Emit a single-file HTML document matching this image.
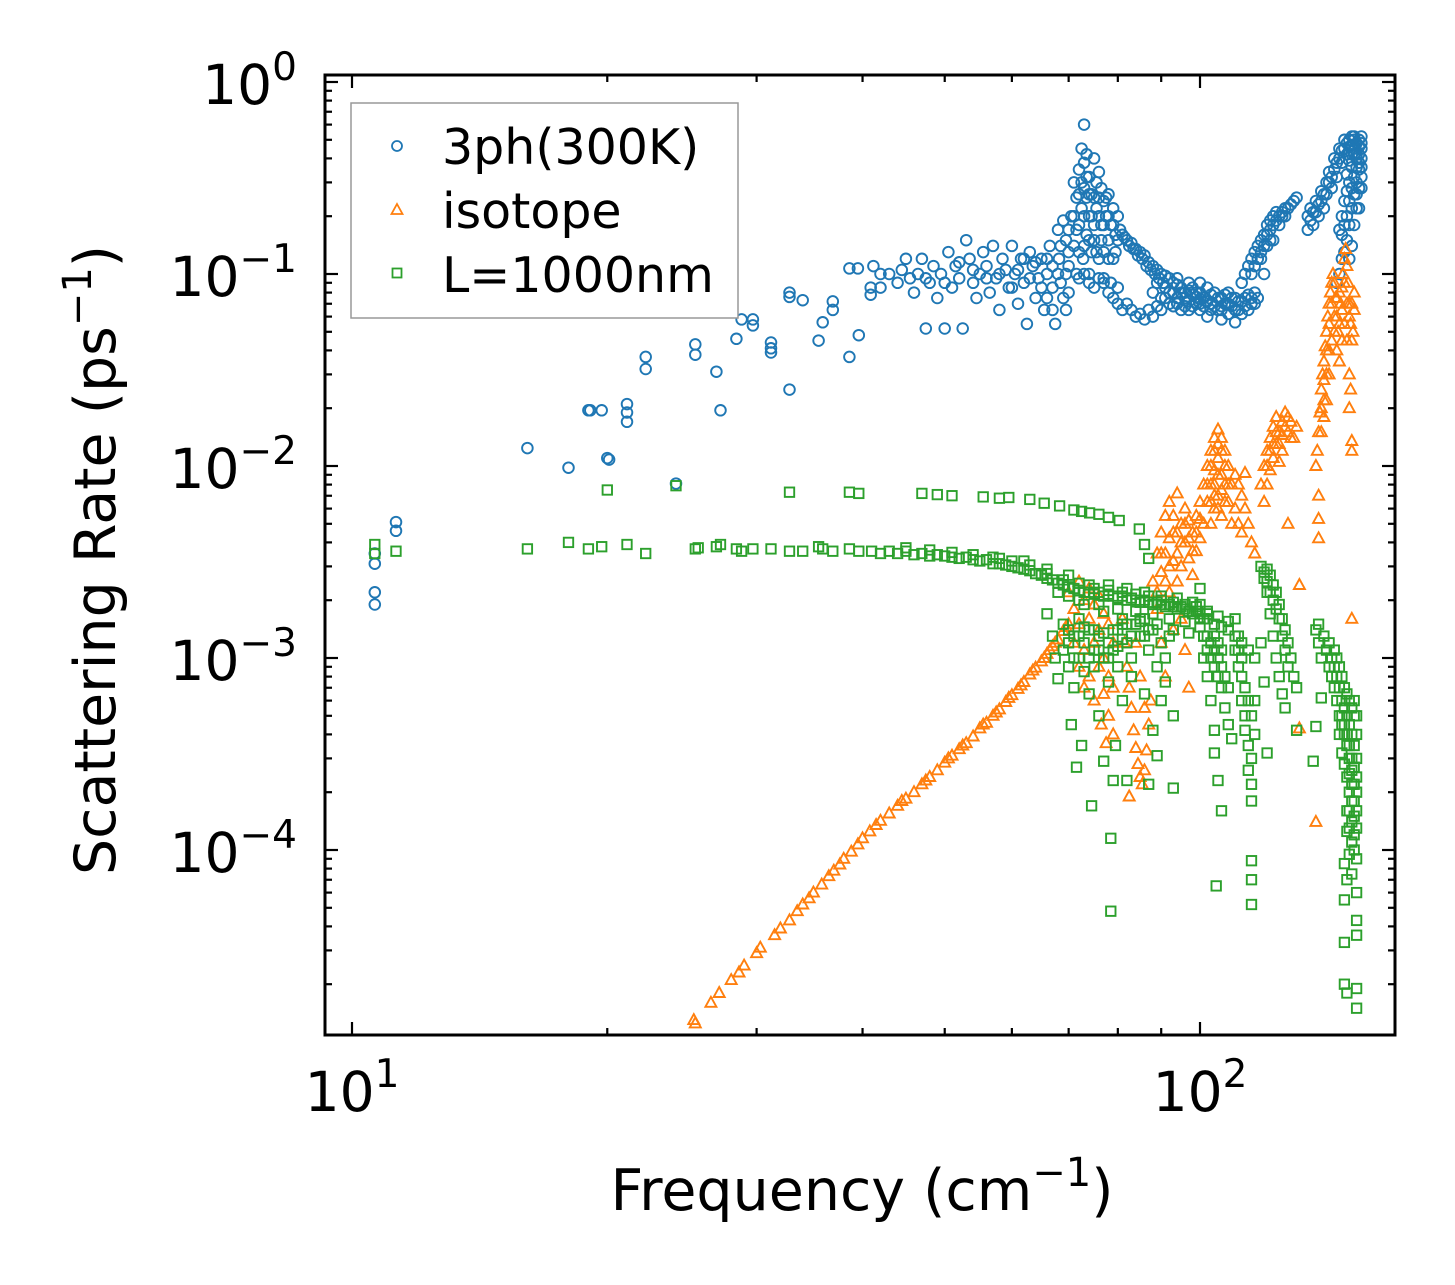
<!DOCTYPE html>
<html><head><meta charset="utf-8"><style>
html,body{margin:0;padding:0;background:#fff;}
svg{display:block;font-family:"DejaVu Sans","Liberation Sans",sans-serif;}
</style></head><body>
<svg id="chart" width="1455" height="1285" viewBox="0 0 1455 1285" xmlns="http://www.w3.org/2000/svg">
<rect width="1455" height="1285" fill="#fff"/>
<g id="marks"></g>
<g id="axes"></g>
<text x="862" y="1210" font-size="57" text-anchor="middle">Frequency (cm<tspan dy="-24" font-size="40">−1</tspan><tspan dy="24">)</tspan></text>
<text transform="translate(115,560) rotate(-90)" font-size="57" text-anchor="middle">Scattering Rate (ps<tspan dy="-24" font-size="40">−1</tspan><tspan dy="24">)</tspan></text>
<g>
<rect x="351" y="103" width="387" height="215" fill="#fff" stroke="#999" stroke-width="1.5"/>
<circle cx="397" cy="146" r="5" fill="none" stroke="#1f77b4" stroke-width="1.8"/>
<text x="442" y="164" font-size="49">3ph(300K)</text>
<polygon points="397,204 402.5,214 391.5,214" fill="none" stroke="#ff7f0e" stroke-width="1.8"/>
<text x="442" y="228" font-size="49">isotope</text>
<rect x="392.5" y="268.5" width="9" height="9" fill="none" stroke="#2ca02c" stroke-width="1.8"/>
<text x="442" y="292" font-size="49">L=1000nm</text>
</g>
</svg>
<script>
const xTickValues=[10,100];
const xTickLabels=["10","10"];
const xTickExps=["1","2"];
const yTickValues=[1,0.1,0.01,0.001,0.0001];
const yTickLabels=["10","10","10","10","10"];
const yTickExps=["0","−1","−2","−3","−4"];

const blue=[[10.64,3.5e-3],[10.64,3.1e-3],[10.64,2.2e-3],[10.64,1.9e-3],[11.27,5.1e-3],[11.27,4.6e-3],[16.1,1.24e-2],[18.0,9.8e-3],[19.0,1.95e-2],[19.1,1.95e-2],[19.7,1.95e-2],[20.0,1.1e-2],[20.1,1.08e-2],[21.1,2.1e-2],[21.1,1.9e-2],[21.1,1.7e-2],[22.2,3.7e-2],[22.2,3.2e-2],[24.1,8.1e-3],[25.4,4.3e-2],[25.4,3.8e-2],[26.9,3.1e-2],[27.2,1.95e-2],[28.4,4.6e-2],[28.8,5.8e-2],[29.7,5.8e-2],[29.7,5.4e-2],[31.2,4.4e-2],[31.2,4.1e-2],[31.2,3.9e-2],[32.8,8e-2],[32.8,7.6e-2],[32.8,2.5e-2],[34,7.3e-2],[35.5,4.5e-2],[35.9,5.6e-2],[36.9,7.2e-2],[36.9,6.5e-2],[38.6,3.7e-2],[38.6,1.07e-1],[39.5,1.07e-1],[39.6,4.8e-2],[40.9,7.8e-2],[40.9,8.5e-2],[41.2,1.1e-1],[42,0.1],
[42,0.085],[43,0.1],[44,0.09],[45,0.12],[45.5,0.095],[46,0.08],[46.5,0.1],[47,0.12],[47.5,0.052],[48,0.09],[48.5,0.11],[49,0.075],[49.5,0.1],[50,0.052],[50.5,0.13],[51,0.085],[51.5,0.11],[52,0.095],[52.5,0.052],[53,0.15],[53.5,0.12],[54,0.09],[54.5,0.075],[55,0.1],[55.5,0.13],[56,0.11],[56.5,0.08],[57,0.14],[57.5,0.095],[58,0.065],[58.5,0.12],[59,0.105],[59.5,0.085],[60,0.14],[60.5,0.1],[61,0.07],[61.5,0.12],[62,0.09],[62.5,0.055],[63,0.13],[63.5,0.11],[64,0.075],[64.5,0.095],[65,0.12],[65.5,0.065],[66,0.1],[66.5,0.14],[67,0.085],[67.5,0.055],[68,0.17],[68.2,0.12],[68.5,0.09],[69,0.19],[69,0.075],[69.5,0.15],[70,0.11],[70,0.08],
[44.5,0.105],[47.5,0.095],[50,0.09],[52,0.115],[54,0.105],[56,0.095],[58,0.1],[60,0.085],[61,0.105],[62,0.12],[63,0.095],[64,0.115],[65,0.085],[66,0.075],[66,0.12],[67,0.11],[67,0.065],[68,0.1],[68.5,0.14],[69.5,0.1],[69.5,0.065],[70,0.13],[70,0.17],
[70.5,0.2],[71,0.3],[71,0.14],[71.5,0.25],[71.5,0.1],[72,0.35],[72,0.18],[72.5,0.45],[72.5,0.22],[72.8,0.12],[73,0.6],[73,0.38],[73,0.28],[73.5,0.42],[73.5,0.16],[74,0.32],[74,0.2],[74,0.1],[74.5,0.26],[75,0.4],[75,0.15],[75.5,0.3],[75.5,0.22],[76,0.34],[76,0.12],[76.5,0.28],[76.5,0.18],[77,0.24],[77,0.095],[77.5,0.2],[78,0.26],[78,0.15],[78.5,0.18],[78.5,0.09],[79,0.22],[79,0.12],[79.5,0.16],[80,0.2],[80,0.085],
[71,0.2],[71.5,0.17],[72,0.26],[72,0.13],[72.5,0.3],[73,0.2],[73,0.14],[73.5,0.25],[73.5,0.32],[74,0.26],[74,0.15],[74.5,0.2],[74.5,0.13],[75,0.25],[75,0.18],[75.5,0.13],[76,0.2],[76,0.25],[76.5,0.15],[77,0.18],[77,0.13],[77.5,0.25],[78,0.2],[78,0.12],[79,0.18],[79.5,0.13],[80,0.15],
[72,0.095],[73,0.1],[74,0.09],[75,0.085],[76,0.095],[77,0.09],[78,0.08],[79,0.075],[80,0.07],[81,0.065],[82,0.07],[83,0.065],[84,0.06],[85,0.062],[86,0.058],[87,0.065],[88,0.06],[89,0.068],
[80.5,0.17],[81,0.16],[82,0.15],[83,0.145],[84,0.135],[85,0.13],[86,0.125],[87,0.115],[88,0.11],[89,0.105],[90,0.1],[91,0.098],[92,0.095],[93,0.09],[94,0.088],[95,0.085],[96,0.08],[97,0.082],[98,0.078],[99,0.076],[100,0.074],
[81.5,0.155],[82.5,0.14],[83.5,0.135],[84.5,0.125],[85.5,0.12],[86.5,0.11],[87.5,0.105],[88.5,0.1],[89.5,0.095],[90.5,0.09],
[88,0.08],[89,0.09],[90,0.075],[91,0.085],[92,0.07],[93,0.08],[94,0.095],[95,0.065],[96,0.075],[97,0.09],[98,0.068],[99,0.08],[100,0.09],[100,0.065],[101,0.075],[102,0.085],[102,0.06],[103,0.07],[104,0.08],[105,0.065],[106,0.075],[106,0.058],[107,0.07],[108,0.08],[108,0.062],[109,0.068],[110,0.075],[110,0.056],[111,0.065],[112,0.072],[113,0.068],[114,0.078],[115,0.07],[116,0.08],[117,0.075],
[90,0.065],[91,0.075],[92,0.08],[93,0.068],[94,0.075],[95,0.08],[96,0.068],[97,0.072],[98,0.085],[99,0.07],[100,0.08],[101,0.068],[102,0.072],[103,0.078],[104,0.068],[105,0.075],[106,0.068],[107,0.078],[108,0.07],[109,0.075],[110,0.065],[111,0.072],[112,0.062],[113,0.075],[114,0.065],[115,0.075],[116,0.07],[94,0.07],[97,0.065],[100,0.07],[103,0.065],[106,0.065],
[112,0.09],[113,0.1],[114,0.11],[115,0.12],[116,0.13],[117,0.14],[118,0.15],[119,0.16],[120,0.18],[121,0.19],[122,0.2],[123,0.21],[124,0.2],[125,0.21],[126,0.22],[127,0.22],[128,0.23],[129,0.24],[130,0.25],[118,0.12],[119,0.1],[120,0.14],[121,0.17],[122,0.15],
[115,0.1],[116,0.11],[117,0.12],[118,0.13],[119,0.14],[120,0.16],[121,0.15],[122,0.18],[123,0.19],[124,0.18],[125,0.2],[126,0.2],
[134,0.17],[135,0.19],[136,0.18],[137,0.21],[138,0.2],[139,0.24],[140,0.22],[141,0.26],[142,0.3],[143,0.28],[144,0.35],[145,0.32],[146,0.4],[147,0.38],[148,0.45],[149,0.42],[150,0.5],[151,0.47],[152,0.52],[153,0.48],[154,0.5],[155,0.45],[155,0.4],[154,0.35],[153,0.3],[152,0.26],[151,0.22],[150,0.18],[149,0.15],[148,0.13],[147,0.12],[146,0.1],[145,0.09],[153,0.4],[152,0.42],[151,0.36],[150,0.3],[149,0.27],[148,0.24],[147,0.2],[146,0.17],[155,0.52],[154,0.42],[153,0.36],[150,0.39],[149,0.33],[154,0.28],[155,0.32],[153,0.22],[152,0.18],[151,0.14],[150,0.12],
[134,0.2],[135,0.22],[136,0.21],[137,0.24],[138,0.23],[139,0.27],[140,0.26],[141,0.3],[142,0.34],[143,0.32],[144,0.4],[145,0.38],[146,0.45],[147,0.44],[148,0.5],[149,0.48],[150,0.44],[151,0.42],[152,0.45],[153,0.42],[154,0.46],[155,0.36],[154,0.38],[155,0.28],[152,0.32],[151,0.28],[150,0.24],[149,0.2],[148,0.18],[147,0.16],[153,0.26],[154,0.22],[155,0.48],[152,0.5],[151,0.52],[150,0.46]];

const orange=[[25.3,1.3e-5],[25.4,1.25e-5],[26.5,1.6e-5],[27.1,1.8e-5],[28,2.1e-5],[28.6,2.3e-5],[29,2.5e-5],[30,2.9e-5],[30.3,3.1e-5],[31.5,3.6e-5],[32,3.9e-5],[32.8,4.3e-5],[33.5,4.8e-5],[34,5.2e-5],[34.6,5.6e-5],[35,6e-5],[35.8,6.6e-5],[36.5,7.3e-5],[37,7.8e-5],[37.6,8.4e-5],[38,9e-5],[38.8,9.8e-5],[39.5,1.07e-4],[40,1.15e-4],[40.8,1.25e-4],[41.5,1.35e-4],[42,1.42e-4],[43,1.55e-4],[44,1.7e-4],[45,1.85e-4],[46,2.0e-4],[47,2.2e-4],[48,2.4e-4],[49,2.6e-4],[50,2.85e-4],[51,3.1e-4],[52,3.35e-4],[53,3.6e-4],[54,3.9e-4],[55,4.3e-4],[56,4.6e-4],[57,5e-4],[58,5.4e-4],[59,5.9e-4],[60,6.4e-4],[61,6.9e-4],[62,7.5e-4],[63,8.2e-4],[64,8.9e-4],[65,9.6e-4],[66,1.05e-3],[67,1.15e-3],[68,1.25e-3],[69,1.38e-3],[70,1.5e-3],[50.5,3e-4],[55.5,4.5e-4],[61.5,7.2e-4],[66.5,1.1e-3],
[44.5,1.8e-4],[47.5,2.3e-4],[52.5,3.5e-4],[57.5,5.2e-4],[59.5,6.2e-4],[63.5,8.6e-4],[65.5,1.0e-3],[67.5,1.2e-3],[69.5,1.45e-3],
[70,2.2e-3],[71,1.8e-3],[71,1.2e-3],[72,2.5e-3],[72,1.5e-3],[72,9e-4],[73,2e-3],[73,1.1e-3],[73,7e-4],[74,2.3e-3],[74,1.6e-3],[74,8e-4],[75,1.9e-3],[75,1.2e-3],[75,6e-4],[76,2.1e-3],[76,1.4e-3],[76,9e-4],[76.5,4.5e-4],[77,1.7e-3],[77,1e-3],[77,6.5e-4],[77.5,3.6e-4],[78,1.5e-3],[78,8e-4],[78,5e-4],[79,1.2e-3],[79,7e-4],[79,4e-4],
[81,1.6e-3],[81.5,1.2e-3],[82,9e-4],[82.5,7e-4],[83,5.5e-4],[83.5,4.2e-4],[84,3.4e-4],[84.5,2.8e-4],[85,2.4e-4],[85.5,2.2e-4],[86,2.6e-4],[86.5,3.3e-4],[87,4.5e-4],[87.5,6e-4],[82.5,1.9e-4],[84,1.2e-3],[85,8e-4],[86,5.5e-4],
[88,2.5e-3],[89,3.5e-3],[89,1.8e-3],[90,4.5e-3],[90,2.8e-3],[90,1.2e-3],[91,5.5e-3],[91,3.5e-3],[91,8e-4],[92,6.5e-3],[92,4.2e-3],[92,2.2e-3],[93,5.5e-3],[93,3.2e-3],[93,1.4e-3],[94,7.2e-3],[94,4.5e-3],[94,2.5e-3],[95,5e-3],[95,3e-3],[95,1.6e-3],[96,6e-3],[96,4e-3],[96,1.1e-3],[97,5.2e-3],[97,3.3e-3],[97,7e-4],[98,4.5e-3],[98,2.7e-3],[99,5.5e-3],[99,3.6e-3],[100,6.5e-3],[100,4.2e-3],
[89,2.2e-3],[90,3.5e-3],[91,2.5e-3],[92,3e-3],[93,4.5e-3],[94,3.5e-3],[95,4e-3],[96,5e-3],[97,4.2e-3],[98,3.6e-3],[99,4.5e-3],[100,5.3e-3],
[101,8e-3],[101,5e-3],[102,1e-2],[102,6.5e-3],[103,1.2e-2],[103,8e-3],[103,5e-3],[104,1.4e-2],[104,9.5e-3],[104,6e-3],[105,1.55e-2],[105,1.1e-2],[105,7e-3],[106,1.4e-2],[106,9e-3],[106,5.5e-3],[107,1.2e-2],[107,8e-3],[108,1e-2],[108,6.5e-3],[109,8e-3],[109,5e-3],
[102,8e-3],[103,1e-2],[104,1.2e-2],[104,8e-3],[105,1.3e-2],[105,9e-3],[106,1.2e-2],[106,7.5e-3],[107,1e-2],[107,6.5e-3],[108,8e-3],[103,6.5e-3],[104,7e-3],[105,6e-3],
[110,9e-3],[110,6e-3],[111,8e-3],[111,5e-3],[112,7e-3],[112,4.5e-3],[113,6e-3],[114,5e-3],[115,4e-3],[116,3.5e-3],[113,9.2e-3],
[118,8e-3],[119,1e-2],[120,1.2e-2],[120,8e-3],[121,1.4e-2],[121,9.5e-3],[122,1.6e-2],[122,1.1e-2],[123,1.8e-2],[123,1.3e-2],[124,1.5e-2],[125,1.7e-2],[125,1.2e-2],[126,1.9e-2],[127,1.5e-2],[128,1.7e-2],[129,1.4e-2],[130,1.6e-2],[124,1.05e-2],[119,6.5e-3],
[120,1e-2],[121,1.2e-2],[122,1.3e-2],[123,1.5e-2],[124,1.3e-2],[125,1.45e-2],[126,1.6e-2],[127,1.8e-2],[128,1.4e-2],
[137,1e-2],[137.5,1.2e-2],[138,1.5e-2],[138.5,1.9e-2],[139,2.5e-2],[139.5,3e-2],[140,3.5e-2],[140.5,4.2e-2],[141,5e-2],[141.5,6e-2],[142,7e-2],[142.5,8e-2],[143,9e-2],[143.5,0.1],[144,0.09],[144.5,0.075],[145,0.06],[145.5,0.05],[146,0.055],[146.5,0.07],[147,0.085],[147.5,0.1],[148,0.12],[148.5,0.135],[149,0.11],[149.5,0.09],[150,0.07],[150.5,0.055],[151,0.045],[151.5,0.05],[152,0.065],[140,2.2e-2],[141,3e-2],[142,4e-2],[139,1.5e-2],[150,0.03],[150.5,0.025],[150,0.02],[151,0.012],[151,0.0135],[138,7e-3],[138,5.3e-3],[138,4.2e-3],[151,1.6e-3],[137,1.4e-4],[131,2.4e-3],[131,4.3e-4],[127,5e-3],
[139,2e-2],[140,2.8e-2],[141,4e-2],[142,5.5e-2],[143,7e-2],[144,6e-2],[145,7.5e-2],[146,8e-2],[147,6.5e-2],[148,9e-2],[149,7e-2],[150,6e-2],[151,7e-2],[152,8e-2],[143,4.5e-2],[144,5e-2],[145,4e-2],[146,3.5e-2],[147,4.5e-2],[148,5.5e-2],[149,4.5e-2],[142,3e-2],[141,2.2e-2],[140,1.8e-2]];

const green=[[20,7.5e-3],[24.1,7.9e-3],[32.8,7.3e-3],[38.6,7.3e-3],[39.6,7.2e-3],[47,7.2e-3],[49,7.1e-3],[51,7e-3],[55.5,6.9e-3],[58,6.8e-3],[59.5,6.85e-3],[63,6.7e-3],[65.5,6.4e-3],[68.3,6.2e-3],[71,5.9e-3],[72.5,5.8e-3],[74.1,5.7e-3],[76,5.6e-3],[78,5.4e-3],[80.3,5.2e-3],[84.8,4.7e-3],[86,3.9e-3],[87,3.3e-3],
[10.64,3.9e-3],[10.64,3.5e-3],[11.27,3.6e-3],[16.1,3.7e-3],[18,4.0e-3],[19,3.7e-3],[19.7,3.8e-3],[21.1,3.9e-3],[22.2,3.5e-3],[25.4,3.7e-3],[25.6,3.75e-3],[26.9,3.8e-3],[27.2,3.9e-3],[28.4,3.7e-3],[28.8,3.6e-3],[29.7,3.7e-3],[31.2,3.7e-3],[32.8,3.6e-3],[34,3.6e-3],[35.5,3.8e-3],[35.9,3.7e-3],[36.9,3.6e-3],[38.6,3.7e-3],[39.6,3.6e-3],[41,3.6e-3],[42,3.5e-3],[43,3.6e-3],[44,3.5e-3],[45,3.6e-3],[46,3.45e-3],[47,3.5e-3],[48,3.4e-3],[49,3.45e-3],[50,3.4e-3],[51,3.35e-3],[52,3.3e-3],[53,3.35e-3],[54,3.25e-3],[55,3.2e-3],[56,3.25e-3],[57,3.1e-3],[58,3.1e-3],[59,3.05e-3],[60,3.0e-3],[61,2.95e-3],[62,2.9e-3],[63,2.85e-3],[64,2.75e-3],[65,2.7e-3],[66,2.6e-3],[67,2.55e-3],[68,2.45e-3],[69,2.4e-3],[70,2.35e-3],[71,2.3e-3],[72,2.25e-3],[73,2.2e-3],[74,2.2e-3],[75,2.15e-3],[76,2.2e-3],[77,2.1e-3],[78,2.15e-3],[79,2.1e-3],[80,2.05e-3],[81,2.1e-3],[82,2.0e-3],[83,2.05e-3],[84,2.0e-3],[85,1.95e-3],[86,2.0e-3],[87,1.95e-3],[88,1.9e-3],[89,1.95e-3],[90,1.9e-3],[91,1.85e-3],[92,1.9e-3],[93,1.85e-3],[94,1.8e-3],[95,1.85e-3],[96,1.8e-3],[97,1.75e-3],[98,1.7e-3],[99,1.75e-3],[100,1.7e-3],[102,1.6e-3],[104,1.5e-3],[106,1.45e-3],[108,1.4e-3],[110,1.3e-3],[112,1.2e-3],[114,1.1e-3],[116,1e-3],[58,3.3e-3],[62,3.2e-3],[66,2.9e-3],[70,2.7e-3],[74,2.4e-3],[78,2.4e-3],[82,2.3e-3],[86,2.2e-3],[90,2.1e-3],[94,2.05e-3],[98,1.95e-3],[68,2.2e-3],[72,2.0e-3],[76,1.9e-3],[80,1.8e-3],[84,1.75e-3],[88,1.7e-3],[92,1.6e-3],[96,1.55e-3],[100,1.45e-3],
[45,3.75e-3],[48,3.65e-3],[51,3.55e-3],[54,3.45e-3],[57,3.35e-3],[60,3.2e-3],[63,3.05e-3],[66,2.75e-3],[69,2.55e-3],[72,2.45e-3],[75,2.3e-3],[78,2.25e-3],[81,2.2e-3],[84,2.15e-3],[87,2.1e-3],[90,2.0e-3],[93,1.95e-3],[96,1.9e-3],[99,1.85e-3],[102,1.75e-3],[105,1.65e-3],[108,1.55e-3],[70,2.1e-3],[73,1.9e-3],[77,1.75e-3],[81,1.6e-3],[85,1.55e-3],[89,1.5e-3],[93,1.4e-3],[97,1.35e-3],[101,1.3e-3],[105,1.2e-3],
[66,1.7e-3],[67,1.3e-3],[67.5,1e-3],[68,7.8e-4],[69,1.5e-3],[69,1.1e-3],[70,1.2e-3],[70,9e-4],[70.5,4.5e-4],[71,1.3e-3],[71,7e-4],[71.5,2.7e-4],[72,1.0e-3],[72,1.6e-3],[72.5,3.5e-4],[73,1.2e-3],[73,8.5e-4],[74,1.4e-3],[74,6.5e-4],[74.5,1.7e-4],[75,1.1e-3],[75,9e-4],[76,1.3e-3],[76,5e-4],[77,1.0e-3],[77,2.9e-4],[78,1.2e-3],[78,7.5e-4],[78.5,4.8e-5],[78.5,1.15e-4],[79,1.1e-3],[79,2.3e-4],[79.5,3.5e-4],[80,9e-4],[80,1.4e-3],[81,6e-4],[81,1.5e-3],[82,1.2e-3],[82,2.3e-4],[83,1.0e-3],[83,8e-4],
[70,1.4e-3],[71,1.0e-3],[72,1.3e-3],[73,1.45e-3],[74,1.0e-3],[75,1.4e-3],[76,1.1e-3],[77,1.35e-3],[78,1.0e-3],[79,1.4e-3],[80,1.15e-3],[81,1.25e-3],[82,1.5e-3],[83,1.3e-3],[84,1.5e-3],[85,1.3e-3],[86,1.6e-3],[87,1.4e-3],
[85,1.6e-3],[86,1.3e-3],[86,6.5e-4],[87,1.1e-3],[87,2.2e-4],[88,1.4e-3],[88,4.2e-4],[89,9e-4],[89,3.1e-4],[90,1.2e-3],[90,6e-4],[91,1.0e-3],[91,7.5e-4],[92,1.3e-3],[93,5e-4],[93,2.1e-4],
[100,2.3e-3],[100,1.6e-3],[101,1.3e-3],[101,1e-3],[102,1.1e-3],[102,8e-4],[103,1.0e-3],[103,6e-4],[104,9e-4],[104,4.2e-4],[104,3.2e-4],[104.5,6.5e-5],[105,8e-4],[105,2.3e-4],[106,7e-4],[106,1.6e-4],[107,5.5e-4],[108,4.5e-4],[109,3.8e-4],
[100,1.9e-3],[101,1.6e-3],[102,1.3e-3],[103,1.2e-3],[104,1.1e-3],[105,1.0e-3],[106,9e-4],[107,8e-4],[108,7e-4],[102,1.7e-3],[104,1.3e-3],[106,1.1e-3],
[110,1.6e-3],[111,1.3e-3],[111,9e-4],[112,8e-4],[112,6e-4],[113,5e-4],[113,4.2e-4],[114,3.5e-4],[114,2.6e-4],[115,2.2e-4],[115,1.8e-4],[115,8.8e-5],[115,7e-5],[115,5.2e-5],[116,6e-4],[110,1.1e-3],
[111,1.1e-3],[112,1.0e-3],[113,7e-4],[114,6e-4],[115,5e-4],[116,4e-4],[115,3e-4],
[118,3e-3],[119,2.6e-3],[120,2.9e-3],[120,2.2e-3],[121,2.7e-3],[121,1.7e-3],[122,2.4e-3],[122,1.3e-3],[123,2.2e-3],[123,1e-3],[124,1.9e-3],[124,8e-4],[125,1.6e-3],[125,6.5e-4],[126,1.4e-3],[126,5.5e-4],[127,1.2e-3],[128,1e-3],[129,8e-4],[118,1.2e-3],[119,7.5e-4],[120,3.2e-4],[130,4.2e-4],[130,7e-4],
[119,2.8e-3],[120,2.5e-3],[121,2.2e-3],[122,2e-3],[123,1.8e-3],[124,1.6e-3],[125,1.3e-3],[126,1.1e-3],[127,9e-4],
[137,1.4e-3],[138,1.2e-3],[139,1.0e-3],[138,1.5e-3],[140,1.3e-3],[141,1.1e-3],[142,9e-4],[143,8e-4],[144,7e-4],[145,6e-4],[146,5e-4],[147,4.5e-4],[148,4e-4],[149,3.5e-4],[150,3e-4],[151,2.6e-4],[152,2.2e-4],[142,1.2e-3],[143,1e-3],[144,9e-4],[145,8e-4],[146,7e-4],[147,6e-4],[148,5.5e-4],[149,5e-4],[150,4.5e-4],[151,4e-4],[152,3.5e-4],[153,3e-4],[146,4e-4],[147,3.2e-4],[148,2.8e-4],[149,2.4e-4],[150,2e-4],[151,1.8e-4],[152,1.5e-4],[153,1.3e-4],[149,1.6e-4],[150,1.3e-4],[151,1.1e-4],[152,1.0e-4],[153,9e-5],[150,9.5e-5],[148,8.5e-5],[149,7e-5],[151,7.5e-5],[153,6e-5],[148,5.5e-5],[153,4.3e-5],[153,3.6e-5],[148,3.3e-5],[148,2e-5],[149,1.8e-5],[153,1.9e-5],[153,1.5e-5],[137,4.4e-4],[136,2.9e-4],[139,6.2e-4],[152,5e-4],[153,4e-4],[153,2e-4],
[144,1.1e-3],[145,1e-3],[146,9e-4],[147,8e-4],[148,7e-4],[149,6.5e-4],[150,6e-4],[151,5.5e-4],[152,6e-4],[153,5e-4],[147,5e-4],[148,4.5e-4],[149,4e-4],[150,3.5e-4],[151,3e-4],[152,2.7e-4],[153,2.4e-4],[150,2.5e-4],[151,2.2e-4],[152,1.8e-4],[153,1.6e-4],[150,1.6e-4],[151,1.4e-4],[152,1.2e-4],[149,1.25e-4]];

const NS="http://www.w3.org/2000/svg";
const X0=352, XD=848, Y0=82, YD=192;
function xPos(f){return X0+(Math.log10(f)-1)*XD;}
function yPos(r){return Y0-Math.log10(r)*YD;}
const L=325,R=1395,T=75,B=1035;
const marks=document.getElementById('marks');
const axes=document.getElementById('axes');
function mk(tag,attrs,parent){const e=document.createElementNS(NS,tag);for(const k in attrs)e.setAttribute(k,attrs[k]);parent.appendChild(e);return e;}

const defs=mk('defs',{},marks);
const cp=mk('clipPath',{id:'clip'},defs);
mk('rect',{x:L,y:T,width:R-L,height:B-T},cp);
marks.setAttribute('clip-path','url(#clip)');

const gB=mk('g',{fill:'none',stroke:'#1f77b4','stroke-width':1.9},marks);


blue.forEach(p=>{
  const c=mk('circle',{cx:xPos(p[0]).toFixed(1),cy:yPos(p[1]).toFixed(1),r:5.3},gB);
  
  
});
const gO=mk('g',{fill:'none',stroke:'#ff7f0e','stroke-width':1.9},marks);


orange.forEach(p=>{
  const x=xPos(p[0]),y=yPos(p[1]);
  const t=mk('polygon',{points:`${x.toFixed(1)},${(y-6).toFixed(1)} ${(x+5.5).toFixed(1)},${(y+4).toFixed(1)} ${(x-5.5).toFixed(1)},${(y+4).toFixed(1)}`},gO);
  
  
});
const gG=mk('g',{fill:'none',stroke:'#2ca02c','stroke-width':1.9},marks);


green.forEach(p=>{
  const x=xPos(p[0]),y=yPos(p[1]);
  const s=mk('rect',{x:(x-4.7).toFixed(1),y:(y-4.7).toFixed(1),width:9.4,height:9.4},gG);
  
  
});

const tg=mk('g',{stroke:'#000','stroke-width':2.2},axes);


for(let d=0;d<=2;d++){for(let m=1;m<=9;m++){const v=m*Math.pow(10,d);const x=xPos(v);if(x<=L+1||x>=R-1)continue;const len=m===1?13:7;
  mk('line',{x1:x,y1:B,x2:x,y2:B-len},tg);mk('line',{x1:x,y1:T,x2:x,y2:T+len},tg);}}
for(let d=-6;d<=0;d++){for(let m=1;m<=9;m++){const v=m*Math.pow(10,d);const y=yPos(v);if(y<=T+1||y>=B-1)continue;const len=m===1?13:7;
  mk('line',{x1:L,y1:y,x2:L+len,y2:y},tg);mk('line',{x1:R,y1:y,x2:R-len,y2:y},tg);}}
const frame=mk('rect',{x:L,y:T,width:R-L,height:B-T,fill:'none',stroke:'#000','stroke-width':3},axes);



xTickValues.forEach((v,i)=>{
  const t=mk('text',{x:xPos(v),y:1111,'font-size':55,'text-anchor':'middle'},axes);
  
  
  t.textContent=xTickLabels[i];
  const s=mk('tspan',{dy:-24,'font-size':39},t);s.textContent=xTickExps[i];
});
yTickValues.forEach((v,i)=>{
  const t=mk('text',{x:297,y:yPos(v)+22,'font-size':55,'text-anchor':'end'},axes);
  
  
  t.textContent=yTickLabels[i];
  const s=mk('tspan',{dy:-24,'font-size':39},t);s.textContent=yTickExps[i];
});
</script>
</body></html>
